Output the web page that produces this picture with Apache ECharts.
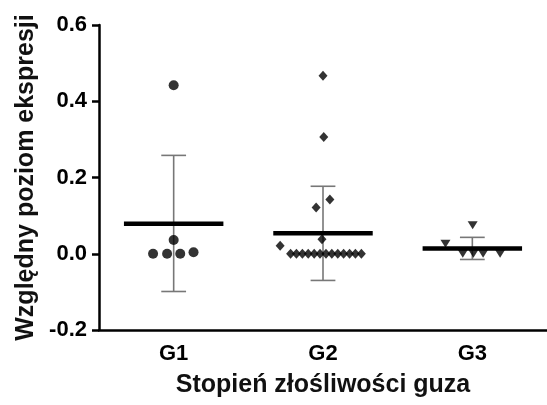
<!DOCTYPE html>
<html>
<head>
<meta charset="utf-8">
<script src="https://cdn.jsdelivr.net/npm/echarts@6/dist/echarts.min.js"></script>
<style>html,body{margin:0;padding:0;background:#fff}#c{width:547px;height:405px}</style>
</head>
<body>
<div id="c"></div>
<script>
var categories = ['G1', 'G2', 'G3'];
var yTicks = [-0.2, 0.0, 0.2, 0.4, 0.6];
var xTitle = 'Stopień złośliwości guza';
var yTitle = 'Względny poziom ekspresji';

// individual points: x = position along category band (jitter), y = value
var g1X = [0.50, 0.50, 0.362, 0.456, 0.544, 0.633];
var g1Y = [0.442, 0.036, 0.0, 0.0, 0.0, 0.004];

var g2X = [1.50, 1.505, 1.546, 1.454, 1.493, 1.213,
           1.283, 1.322, 1.362, 1.401, 1.441, 1.480, 1.520, 1.559, 1.599, 1.638, 1.678, 1.717, 1.757];
var g2Y = [0.467, 0.306, 0.142, 0.121, 0.038, 0.021,
           0, 0, 0, 0, 0, 0, 0, 0, 0, 0, 0, 0, 0];

var g3X = [2.502, 2.320, 2.436, 2.507, 2.572, 2.686];
var g3Y = [0.075, 0.026, 0.0, 0.0, 0.0, 0.0];

var means = [0.079, 0.054, 0.014];
var errLow = [-0.099, -0.070, -0.015];
var errHigh = [0.258, 0.177, 0.043];

function pairs(xs, ys) { return xs.map(function (x, i) { return [x, ys[i]]; }); }

var FONT = "'Liberation Sans', Arial, sans-serif";
var chart = echarts.init(document.getElementById('c'), null, {renderer: 'canvas'});

var summary = categories.map(function (c, i) { return [i, means[i], errLow[i], errHigh[i]]; });

chart.setOption({
  animation: false,
  backgroundColor: '#fff',
  grid: {left: 99, top: 25, width: 456, height: 305},
  xAxis: [{
    type: 'category',
    data: categories,
    boundaryGap: true,
    axisLine: {onZero: false, lineStyle: {color: '#000', width: 2.5}},
    axisTick: {alignWithLabel: true, length: 7, lineStyle: {color: '#000', width: 2.5}},
    axisLabel: {color: '#000', fontSize: 22, fontWeight: 'bold', fontFamily: FONT, margin: 13},
    name: xTitle,
    nameLocation: 'middle',
    nameGap: 43,
    nameTextStyle: {color: '#111', fontSize: 25, fontWeight: 'bold', fontFamily: FONT},
    splitLine: {show: false}
  }, {
    type: 'value',
    min: 0, max: 3,
    show: false
  }],
  yAxis: {
    type: 'value',
    min: -0.2, max: 0.6, interval: 0.2,
    axisLine: {show: true, onZero: false, lineStyle: {color: '#000', width: 2.5}},
    axisTick: {show: true, length: 7, lineStyle: {color: '#000', width: 2.5}},
    axisLabel: {color: '#000', fontSize: 22, fontWeight: 'bold', fontFamily: FONT, margin: 12,
      formatter: function (v) { return v.toFixed(1); }},
    splitLine: {show: false},
    name: yTitle,
    nameLocation: 'middle',
    nameGap: 58,
    nameTextStyle: {color: '#111', fontSize: 25, fontWeight: 'bold', fontFamily: FONT}
  },
  series: [{
    type: 'custom',
    xAxisIndex: 1,
    z: 1,
    data: summary,
    renderItem: function (params, api) {
      var cx = api.value(0) + 0.5;
      var m = api.value(1), lo = api.value(2), hi = api.value(3);
      var capHalf = 0.083, meanHalf = 0.333;
      var pTop = api.coord([cx, hi]), pBot = api.coord([cx, lo]);
      var cL = api.coord([cx - capHalf, hi])[0], cR = api.coord([cx + capHalf, hi])[0];
      var mL = api.coord([cx - meanHalf, m]), mR = api.coord([cx + meanHalf, m]);
      var err = {stroke: '#777', lineWidth: 1.6};
      return {type: 'group', children: [
        {type: 'line', shape: {x1: pTop[0], y1: pTop[1], x2: pBot[0], y2: pBot[1]}, style: err},
        {type: 'line', shape: {x1: cL, y1: pTop[1], x2: cR, y2: pTop[1]}, style: err},
        {type: 'line', shape: {x1: cL, y1: pBot[1], x2: cR, y2: pBot[1]}, style: err},
        {type: 'line', shape: {x1: mL[0], y1: mL[1], x2: mR[0], y2: mR[1]}, style: {stroke: '#000', lineWidth: 4.5}}
      ]};
    }
  }, {
    type: 'scatter', xAxisIndex: 1, z: 3,
    symbol: 'circle', symbolSize: 10,
    itemStyle: {color: '#000'},
    data: pairs(g1X, g1Y)
  }, {
    type: 'scatter', xAxisIndex: 1, z: 3,
    symbol: 'diamond', symbolSize: [9, 10],
    itemStyle: {color: '#000'},
    data: pairs(g2X, g2Y)
  }, {
    type: 'scatter', xAxisIndex: 1, z: 3,
    symbol: 'triangle', symbolRotate: 180, symbolSize: [10, 8],
    itemStyle: {color: '#000'},
    data: pairs(g3X, g3Y)
  }]
});
</script>
</body>
</html>
